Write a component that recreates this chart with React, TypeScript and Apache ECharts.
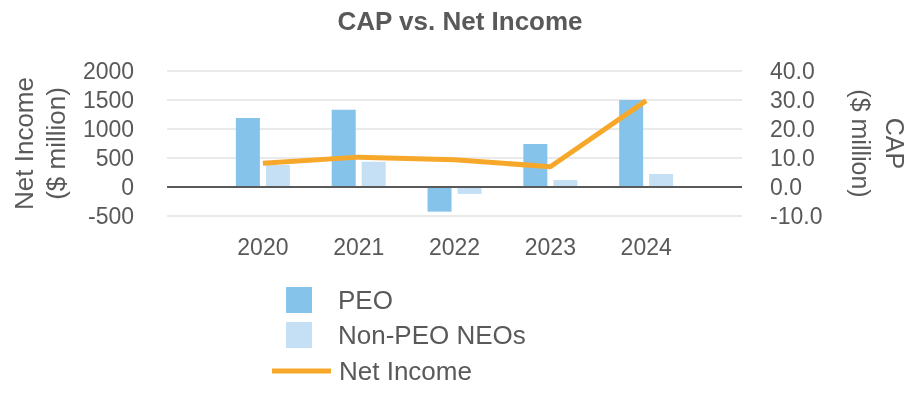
import React, { useEffect, useRef } from "react";
import * as echarts from "echarts";

const categories = ["", "2020", "2021", "2022", "2023", "2024", ""];
const peoCap = [null, 23.8, 26.6, -8.5, 14.8, 30.0, null];
const nonPeoCap = [null, 7.6, 8.7, -2.4, 2.4, 4.5, null];
const netIncome = [null, 410, 515, 470, 350, 1490, null];

const FONT = "'Liberation Sans', Arial, sans-serif";
const GREY = "#595959";
const PEO_COLOR = "#86C3EA";
const NONPEO_COLOR = "#C5E0F5";
const LINE_COLOR = "#F7A82A";

export default function App() {
  const ref = useRef<HTMLDivElement>(null);
  useEffect(() => {
    if (!ref.current) return;
    const chart = echarts.init(ref.current, undefined, { renderer: "svg" });
    const legendText = { fontFamily: FONT, fontSize: 26, color: GREY };
    chart.setOption({
      animation: false,
      textStyle: { fontFamily: FONT },
      title: {
        text: "CAP vs. Net Income",
        left: "center",
        top: 3,
        textStyle: { fontFamily: FONT, fontSize: 26, fontWeight: "bold", color: GREY },
      },
      grid: { left: 166, right: 168, top: 71, height: 145, containLabel: false },
      legend: [
        {
          data: ["PEO"],
          orient: "vertical",
          left: 286,
          top: 287,
          padding: 0,
          itemWidth: 26,
          itemHeight: 26,
          icon: "rect",
          textStyle: { ...legendText, padding: [0, 0, 0, 21] },
        },
        {
          data: ["Non-PEO NEOs"],
          orient: "vertical",
          left: 286,
          top: 322,
          padding: 0,
          itemWidth: 26,
          itemHeight: 26,
          icon: "rect",
          textStyle: { ...legendText, padding: [0, 0, 0, 21] },
        },
        {
          data: ["Net Income"],
          orient: "vertical",
          left: 272,
          top: 358,
          padding: 0,
          itemWidth: 59,
          itemHeight: 5,
          icon: "rect",
          textStyle: { ...legendText, padding: [0, 0, 0, 3] },
        },
      ],
      xAxis: {
        type: "category",
        data: categories,
        boundaryGap: false,
        axisLine: { show: false },
        axisTick: { show: false },
        splitLine: { show: false },
        axisLabel: { fontFamily: FONT, fontSize: 23, color: GREY, margin: 19 },
      },
      yAxis: [
        {
          type: "value",
          min: -500,
          max: 2000,
          interval: 500,
          position: "left",
          name: "Net Income\n($ million)",
          nameLocation: "middle",
          nameRotate: 90,
          nameGap: 94,
          nameTextStyle: { fontFamily: FONT, fontSize: 26, color: GREY, lineHeight: 32 },
          axisLine: { show: false },
          axisTick: { show: false },
          axisLabel: {
            fontFamily: FONT,
            fontSize: 23,
            color: GREY,
            margin: 33,
            formatter: (v: number) => String(v),
          },
          splitLine: { lineStyle: { color: "#E3E3E3", width: 1.5 } },
        },
        {
          type: "value",
          min: -10,
          max: 40,
          interval: 10,
          position: "right",
          name: "CAP\n($ million)",
          nameLocation: "middle",
          nameRotate: -90,
          nameGap: 102,
          nameTextStyle: { fontFamily: FONT, fontSize: 25, color: GREY, lineHeight: 34 },
          axisLine: { show: false },
          axisTick: { show: false },
          axisLabel: {
            fontFamily: FONT,
            fontSize: 23,
            color: GREY,
            margin: 28,
            formatter: (v: number) => v.toFixed(1),
          },
          splitLine: { show: false },
        },
      ],
      series: [
        {
          name: "PEO",
          type: "bar",
          yAxisIndex: 1,
          data: peoCap,
          barWidth: 24,
          barGap: "25%",
          itemStyle: { color: PEO_COLOR },
        },
        {
          name: "Non-PEO NEOs",
          type: "bar",
          yAxisIndex: 1,
          data: nonPeoCap,
          barWidth: 24,
          barGap: "25%",
          itemStyle: { color: NONPEO_COLOR },
        },
        {
          name: "Net Income",
          type: "line",
          yAxisIndex: 0,
          data: netIncome,
          symbol: "none",
          lineStyle: { color: LINE_COLOR, width: 5 },
          itemStyle: { color: LINE_COLOR },
          z: 5,
          markLine: {
            silent: true,
            symbol: "none",
            label: { show: false },
            lineStyle: { color: GREY, width: 2, type: "solid" },
            data: [{ yAxis: 0 }],
            z: 4,
          },
        },
      ],
    });
    return () => chart.dispose();
  }, []);
  return (
    <div
      ref={ref}
      style={{ position: "fixed", left: 0, top: 0, width: 920, height: 400 }}
    />
  );
}
